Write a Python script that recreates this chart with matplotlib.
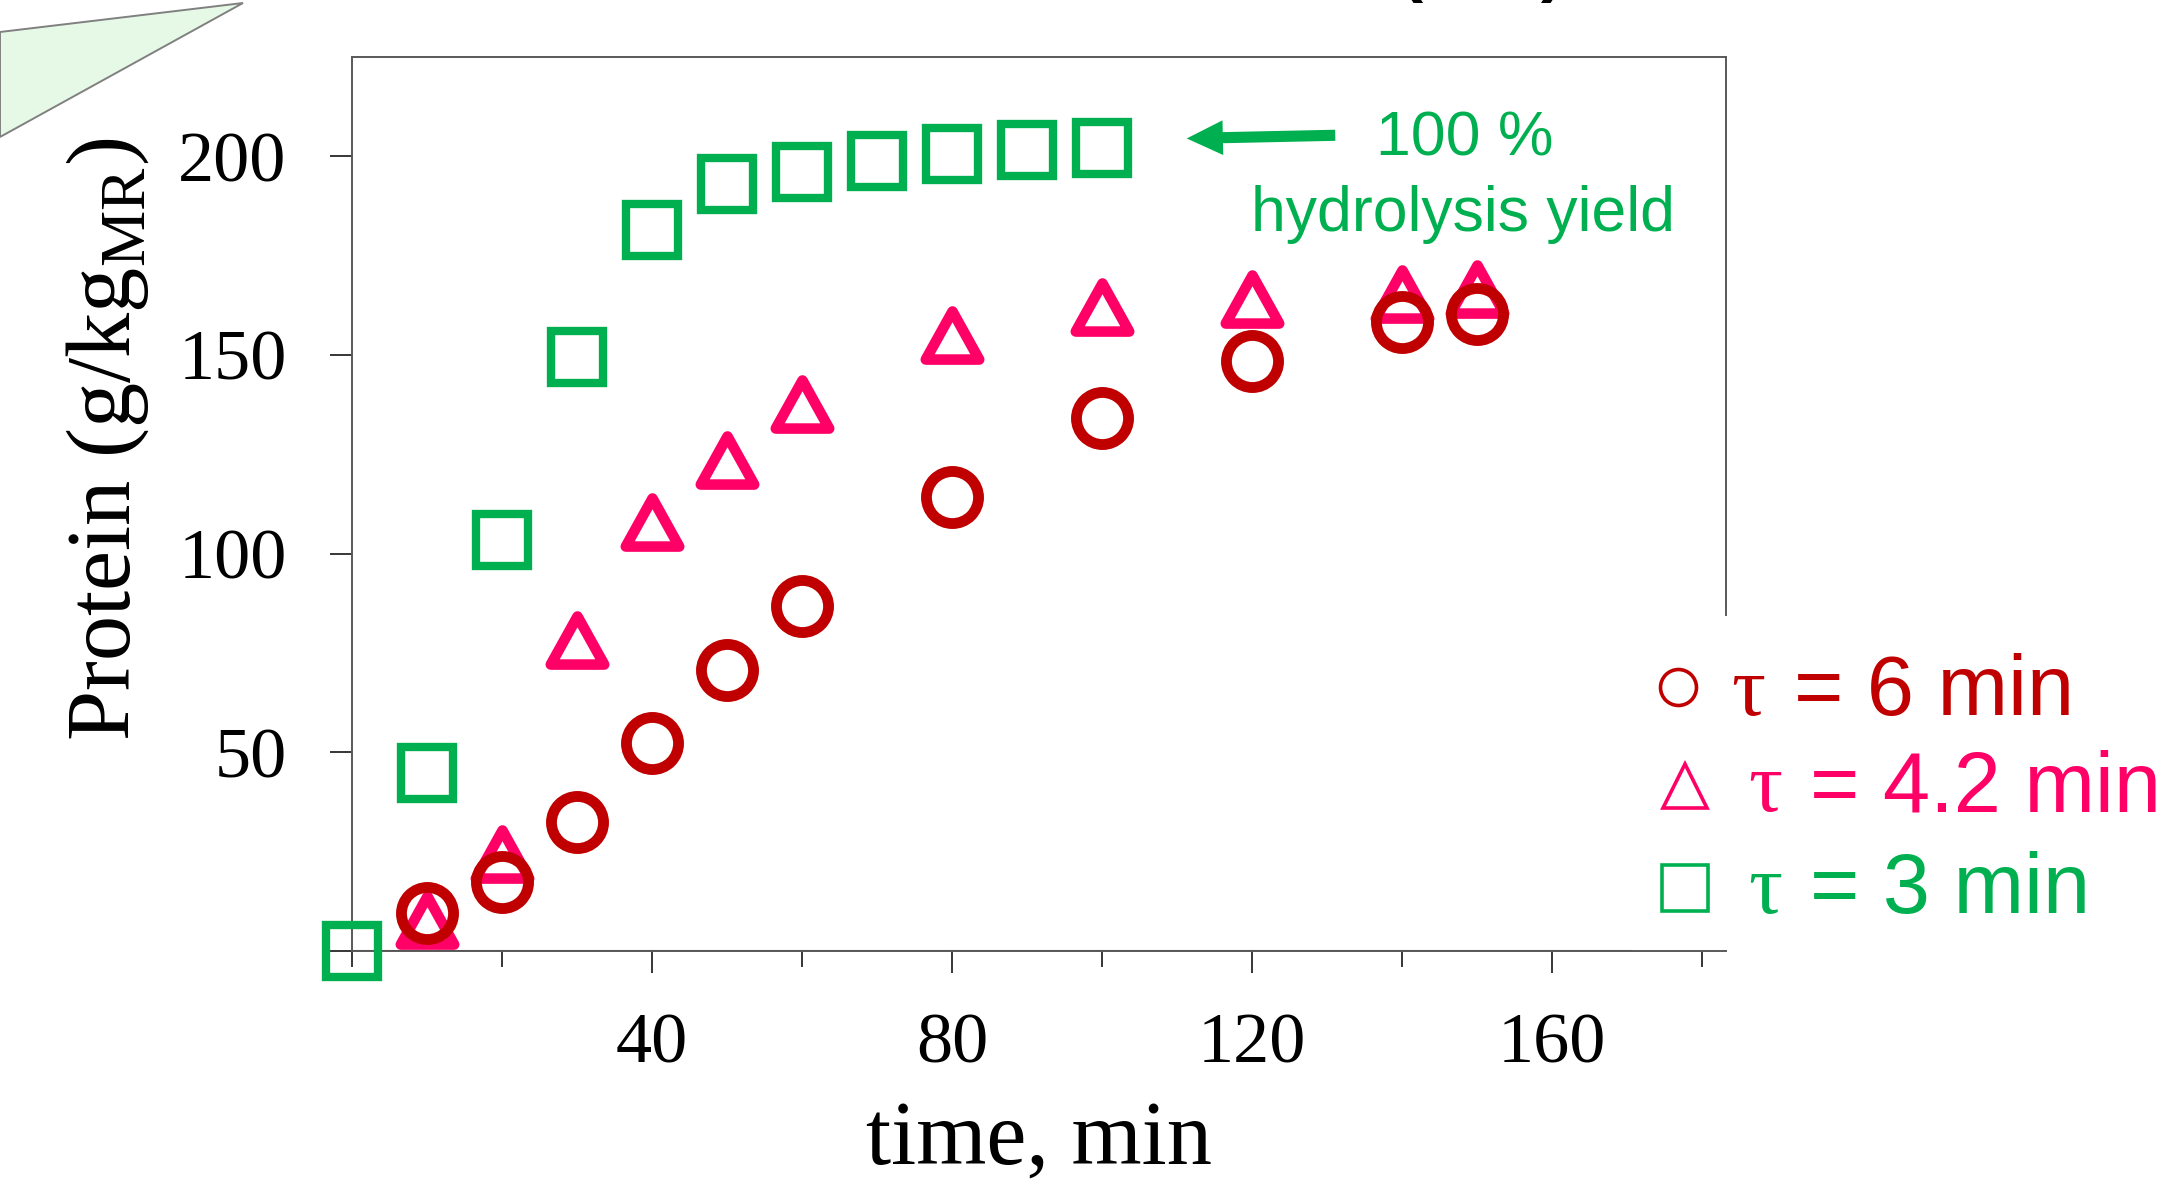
import matplotlib
matplotlib.use('Agg')
import matplotlib.pyplot as plt
from matplotlib.patches import Polygon, FancyArrowPatch
from matplotlib.lines import Line2D
from matplotlib.markers import MarkerStyle
from matplotlib.path import Path

# data
time_6 = [10, 20, 30, 40, 50, 60, 80, 100, 120, 140, 150]
protein_6 = [9.6, 17.4, 32.5, 52.4, 70.8, 86.8, 114.3, 134.1, 148.4, 158.2, 160.2]

time_42 = [10, 20, 30, 40, 50, 60, 80, 100, 120, 140, 150]
protein_42 = [7.8, 24.4, 78.3, 108.0, 123.5, 137.6, 155.0, 162.0, 164.2, 165.3, 166.5]

time_3 = [0, 10, 20, 30, 40, 50, 60, 70, 80, 90, 100]
protein_3 = [0, 44.7, 103.5, 149.5, 181.5, 193.0, 196.1, 198.9, 200.6, 201.7, 202.0]

legend_labels = ['= 6 min', '= 4.2 min', '= 3 min']
x_major = [40, 80, 120, 160]
x_minor = [0, 20, 60, 100, 140, 180]
y_ticks = [0, 50, 100, 150, 200]
y_ticklabels = ['', '50', '100', '150', '200']

RED = '#C00000'
PINK = '#FF0066'
GREEN = '#00B050'
SERIF = 'Liberation Serif'
SANS = 'Liberation Sans'

W, H = 2169, 1181


def fx(px):
    return px / W


def fy(py):
    return 1 - py / H


plt.rcParams['font.family'] = SERIF
plt.rcParams['mathtext.fontset'] = 'custom'
plt.rcParams['mathtext.rm'] = SERIF

fig = plt.figure(figsize=(W / 100, H / 100), dpi=100)
fig.patch.set_facecolor('white')

# light green callout fragment in the top-left corner
fig.add_artist(Polygon([(fx(0), fy(32)), (fx(243), fy(3)), (fx(0), fy(137))],
                       closed=True, transform=fig.transFigure,
                       facecolor='#E6F9E6', edgecolor='#808080', lw=1.4))

# bits of a cut-off title at the top edge
fig.text(fx(1411), fy(-11), '(', family=SANS, weight='bold', fontsize=50,
         ha='center', va='baseline')
fig.text(fx(1553), fy(-11), ')', family=SANS, weight='bold', fontsize=50,
         ha='center', va='baseline')

ax = fig.add_axes([fx(352), fy(951), (1726 - 352) / W, (951 - 57) / H])
ax.set_xlim(0, 183.2)
ax.set_ylim(0, 225)

# markers
tri_path = Path([(0, 0.45), (-0.5, -0.45), (0.5, -0.45), (0, 0.45)], closed=True)
tri = MarkerStyle(tri_path, joinstyle='round')

ax.plot(time_3, protein_3, ls='none', marker='s', ms=37.4, mfc='none',
        mec=GREEN, mew=6, clip_on=False, zorder=3)
ax.plot(time_42, protein_42, ls='none', marker=tri, ms=38.5, mfc='none',
        mec=PINK, mew=7.6, clip_on=False, zorder=4)
ax.plot(time_6, protein_6, ls='none', marker='o', ms=37.5, mfc='none',
        mec=RED, mew=7.8, clip_on=False, zorder=5)

# axes frame
for side in ['top', 'right', 'left', 'bottom']:
    ax.spines[side].set_color('#595959')
    ax.spines[side].set_linewidth(1.4)
ax.spines['right'].set_bounds((951 - 615) / 3.975, 225)
ax.axhline(0, xmin=0, xmax=(1630 - 352) / (1726 - 352), color='black', lw=2.2, zorder=2.5)

ax.set_xticks(x_major)
ax.set_xticks(x_minor, minor=True)
ax.set_yticks(y_ticks)
ax.set_yticklabels(y_ticklabels)
ax.tick_params(axis='x', which='major', length=16, width=1.1, pad=28,
               labelsize=52, direction='out', color='black')
ax.tick_params(axis='x', which='minor', length=11.3, width=1.1,
               direction='out', color='black')
ax.tick_params(axis='y', which='major', length=16, width=1.1, pad=31,
               labelsize=52, direction='out', color='black')

# axis labels
fig.text(fx(1039), fy(1164), 'time, min', fontsize=65, ha='center', va='baseline')
fig.text(fx(130), fy(439), r'Protein (g/kg$_{\mathregular{MR}}$)', fontsize=65,
         rotation=90, rotation_mode='anchor', ha='center', va='baseline')

# 100 % annotation
arrow = FancyArrowPatch(posA=(131.1, 205.3), posB=(111.3, 204.5),
                        arrowstyle='simple,head_length=26,head_width=25,tail_width=8',
                        mutation_scale=1, shrinkA=0, shrinkB=0,
                        facecolor=GREEN, edgecolor='none', clip_on=False, zorder=6)
ax.add_patch(arrow)
fig.text(fx(1465), fy(155), '100 %', family=SANS, fontsize=45, color=GREEN,
         ha='center', va='baseline')
fig.text(fx(1463), fy(231), 'hydrolysis yield', family=SANS, fontsize=45, color=GREEN,
         ha='center', va='baseline')

# hand-made legend
leg_rows = [
    (MarkerStyle('o'), 25.9, RED, (1678, 687), 1731, 1794, 715),
    (MarkerStyle('^', joinstyle='miter'), 31.7, PINK, (1685, 786), 1748, 1810, 811),
    (MarkerStyle('s'), 33.0, GREEN, (1685, 888), 1748, 1810, 913),
]
for (mk, ms, col, (mx, my), tau_x, txt_x, base), lab in zip(leg_rows, legend_labels):
    fig.add_artist(Line2D([fx(mx)], [fy(my)], marker=mk, ms=ms, mfc='none',
                          mec=col, mew=2.6, transform=fig.transFigure))
    fig.text(fx(tau_x), fy(base), '\u03c4', family=SERIF, fontsize=61, color=col,
             ha='left', va='baseline')
    fig.text(fx(txt_x), fy(base), lab, family=SANS, fontsize=61, color=col,
             ha='left', va='baseline')

fig.savefig('out.png', dpi=100, facecolor='white')
